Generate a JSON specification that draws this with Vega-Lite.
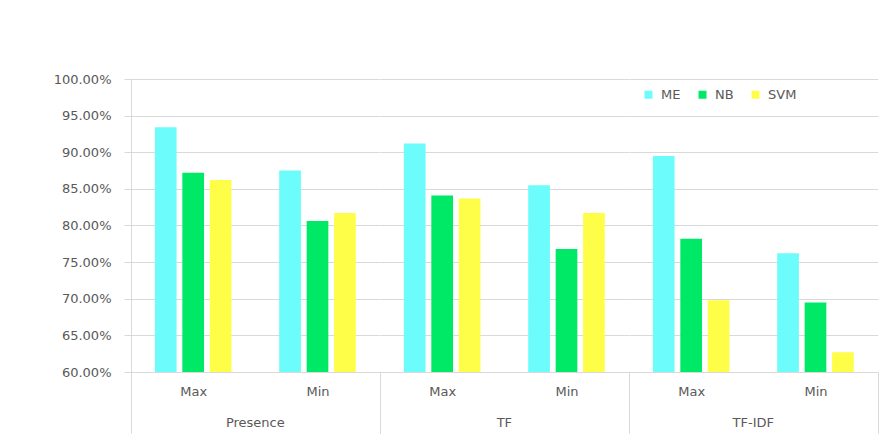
{
  "$schema": "https://vega.github.io/schema/vega-lite/v6.json",
  "padding": {"left": 53, "top": 73, "right": 5, "bottom": 5},
  "background": "white",
  "data": {
    "values": [
      {"group": "Presence", "sub": "Max", "series": "ME", "value": 0.934},
      {"group": "Presence", "sub": "Max", "series": "NB", "value": 0.872},
      {"group": "Presence", "sub": "Max", "series": "SVM", "value": 0.862},
      {"group": "Presence", "sub": "Min", "series": "ME", "value": 0.875},
      {"group": "Presence", "sub": "Min", "series": "NB", "value": 0.806},
      {"group": "Presence", "sub": "Min", "series": "SVM", "value": 0.817},
      {"group": "TF", "sub": "Max", "series": "ME", "value": 0.912},
      {"group": "TF", "sub": "Max", "series": "NB", "value": 0.841},
      {"group": "TF", "sub": "Max", "series": "SVM", "value": 0.837},
      {"group": "TF", "sub": "Min", "series": "ME", "value": 0.855},
      {"group": "TF", "sub": "Min", "series": "NB", "value": 0.768},
      {"group": "TF", "sub": "Min", "series": "SVM", "value": 0.817},
      {"group": "TF-IDF", "sub": "Max", "series": "ME", "value": 0.895},
      {"group": "TF-IDF", "sub": "Max", "series": "NB", "value": 0.782},
      {"group": "TF-IDF", "sub": "Max", "series": "SVM", "value": 0.698},
      {"group": "TF-IDF", "sub": "Min", "series": "ME", "value": 0.762},
      {"group": "TF-IDF", "sub": "Min", "series": "NB", "value": 0.695},
      {"group": "TF-IDF", "sub": "Min", "series": "SVM", "value": 0.627}
    ]
  },
  "facet": {
    "column": {
      "field": "group",
      "type": "nominal",
      "sort": ["Presence", "TF", "TF-IDF"],
      "header": {
        "title": null,
        "labelOrient": "bottom",
        "labelFont": "DejaVu Sans",
        "labelFontSize": 13,
        "labelColor": "#595959",
        "labelPadding": -17
      }
    }
  },
  "spacing": 0,
  "spec": {
    "width": 248.67,
    "height": 293,
    "mark": {"type": "bar", "clip": true},
    "encoding": {
      "x": {
        "field": "sub",
        "type": "nominal",
        "sort": ["Max", "Min"],
        "scale": {"paddingInner": 0, "paddingOuter": 0},
        "axis": {
          "title": null,
          "labelAngle": 0,
          "tickBand": "extent",
          "tickSize": 61,
          "tickColor": "#d9d9d9",
          "tickOpacity": {"condition": {"test": "datum.value != 'Max'", "value": 1}, "value": 0},
          "labelPadding": -48,
          "labelBaseline": "top",
          "domainColor": "#d9d9d9"
        }
      },
      "xOffset": {
        "field": "series",
        "type": "nominal",
        "sort": ["ME", "NB", "SVM"],
        "scale": {"paddingInner": 0.21, "paddingOuter": 0.87}
      },
      "y": {
        "field": "value",
        "type": "quantitative",
        "scale": {"domain": [0.6, 1.0], "zero": false, "nice": false},
        "axis": {
          "title": null,
          "format": ".2%",
          "values": [0.6, 0.65, 0.7, 0.75, 0.8, 0.85, 0.9, 0.95, 1.0],
          "tickSize": 7,
          "labelPadding": 13,
          "tickColor": "#d9d9d9",
          "domainColor": "#d9d9d9",
          "gridColor": "#d9d9d9"
        }
      },
      "color": {
        "field": "series",
        "type": "nominal",
        "sort": ["ME", "NB", "SVM"],
        "scale": {"domain": ["ME", "NB", "SVM"], "range": ["#6cfcfc", "#00e966", "#fefe48"]},
        "legend": {
          "title": null,
          "orient": "none",
          "direction": "horizontal",
          "legendX": 511,
          "legendY": 9,
          "symbolType": "square",
          "symbolSize": 64,
          "symbolStrokeWidth": 0,
          "labelFont": "DejaVu Sans",
          "labelFontSize": 13,
          "labelColor": "#595959",
          "labelOffset": 6,
          "columnPadding": 15,
          "padding": 0
        }
      }
    }
  },
  "config": {
    "view": {"stroke": null},
    "axis": {
      "labelFont": "DejaVu Sans",
      "labelFontSize": 13,
      "labelColor": "#595959",
      "gridWidth": 1,
      "domainWidth": 1
    }
  }
}
